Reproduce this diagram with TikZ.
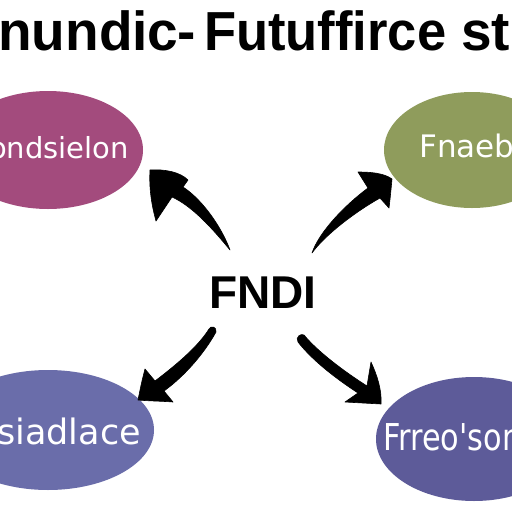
\documentclass[tikz,border=0pt]{standalone}
\usepackage{fontspec}
\usepackage{graphicx}
\setmainfont{Liberation Sans}
\newfontfamily\lblfont{DejaVu Sans}
\usetikzlibrary{shapes.geometric}
\definecolor{cmag}{HTML}{A34B7D}
\definecolor{cgrn}{HTML}{8F9C5C}
\definecolor{cblu}{HTML}{6A6DAA}
\definecolor{cpur}{HTML}{5D5B99}
\tikzset{
  blob/.style={ellipse, inner sep=0pt},
  lbl/.style={text=white, inner sep=0pt},
  ttl/.style={anchor=base west, inner sep=0pt, font=\bfseries\fontsize{55}{60}\selectfont},
  arrowshape/.style={fill=black, draw=black, line width=0.6pt, line join=round},
}
\begin{document}
\begin{tikzpicture}[x=1pt,y=-1pt]
\useasboundingbox (0,0) rectangle (512,512);
\clip (0,0) rectangle (512,512);
\fill[white] (0,0) rectangle (512,512);
% title
\node[ttl] (t1) at (-2,50) {nundic};
\node[ttl] (t2) at (177,50) {-};
\node[ttl] (t3) at (204,50) {\scalebox{0.955}[1]{Futuffirce}};
\node[ttl] (t4) at (461,50) {st};
% ellipses
\node[blob, fill=cmag, minimum width=190pt, minimum height=118pt] (tl) at (48,150) {};
\node[blob, fill=cgrn, minimum width=176pt, minimum height=116pt] (tr) at (472,150) {};
\node[blob, fill=cblu, minimum width=212pt, minimum height=120pt] (bl) at (48,430) {};
\node[blob, fill=cpur, minimum width=196pt, minimum height=124pt] (br) at (474,439) {};
\node[lbl, anchor=base east, font=\lblfont\fontsize{29}{30}\selectfont] (tlt) at (129,158) {ondsielon};
\node[lbl, anchor=base west, font=\lblfont\fontsize{31}{30}\selectfont] (trt) at (419,157) {Fnaeb};
\node[lbl, anchor=base east, font=\lblfont\fontsize{35}{30}\selectfont] (blt) at (141,444) {siadlace};
\node[lbl, anchor=base west, font=\lblfont\fontsize{37}{30}\selectfont] (brt) at (383,450) {\scalebox{0.82}[1]{Frreo'son}};
% centre
\node[anchor=base, inner sep=0pt, font=\bfseries\fontsize{46}{50}\selectfont] (c) at (263,308) {FNDI};
% arrows (tapered, drawn as filled shapes)
\coordinate (h1) at (150,170);
\coordinate (h2) at (392,179);
\coordinate (h3) at (138,400);
\coordinate (h4) at (381,404);
\fill[arrowshape] (h1) .. controls (165,169) and (180,172) .. (188,180) -- (183,187)
  .. controls (203,200) and (222,228) .. (230,250)
  .. controls (212,228) and (192,206) .. (172,197) -- (156,221)
  .. controls (151,203) and (149,186) .. (h1) -- cycle;
\fill[arrowshape] (h2) .. controls (391,190) and (390,200) .. (389,208) -- (380,198)
  .. controls (355,212) and (325,235) .. (312,253)
  .. controls (319,232) and (345,205) .. (368,188) -- (358,172)
  .. controls (370,172) and (384,173) .. (h2) -- cycle;
\fill[arrowshape] (h3) .. controls (140,390) and (142,380) .. (145,369) -- (155,381)
  .. controls (180,362) and (199,345) .. (209,329)
  .. controls (211,325) and (217,327) .. (216,332)
  .. controls (205,352) and (186,375) .. (164,391) -- (173,402)
  .. controls (160,401) and (148,401) .. (h3) -- cycle;
\fill[arrowshape] (h4) -- (345,402) -- (358,393)
  .. controls (335,378) and (312,360) .. (298,342)
  .. controls (295,337) and (301,333) .. (304,335)
  .. controls (318,352) and (345,372) .. (367,386) -- (371,362)
  .. controls (377,375) and (382,390) .. (h4) -- cycle;
\end{tikzpicture}
\end{document}
